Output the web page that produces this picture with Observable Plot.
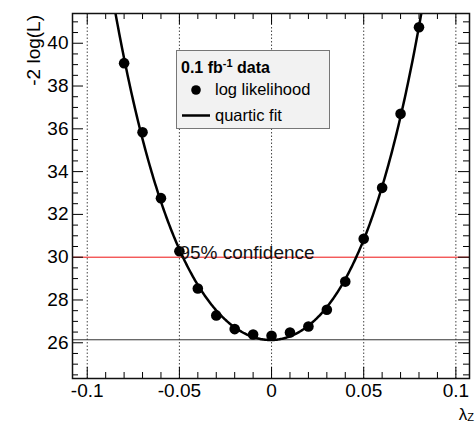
<!DOCTYPE html>
<html><head><meta charset="utf-8">
<script src="https://cdn.jsdelivr.net/npm/d3@7"></script>
<script src="https://cdn.jsdelivr.net/npm/@observablehq/plot@0.6"></script>
<style>body{margin:0;background:#fff;} svg{display:block;}</style>
</head><body><div id="chart"></div>
<script>
// ---- data ----
const lambdaZ = [-0.08,-0.07,-0.06,-0.05,-0.04,-0.03,-0.02,-0.01,0,0.01,0.02,0.03,0.04,0.05,0.06,0.07,0.08];
const logL    = [39.07,35.84,32.76,30.28,28.54,27.28,26.64,26.39,26.33,26.48,26.76,27.54,28.86,30.86,33.24,36.70,40.75];
const xMajor = [-0.1,-0.05,0,0.05,0.1];
const xMinor = [-0.09,-0.08,-0.07,-0.06,-0.04,-0.03,-0.02,-0.01,0.01,0.02,0.03,0.04,0.06,0.07,0.08,0.09];
const yMajor = [26,28,30,32,34,36,38,40];
const yMinor = [24.5,25,25.5,26.5,27,27.5,28.5,29,29.5,30.5,31,31.5,32.5,33,33.5,34.5,35,35.5,36.5,37,37.5,38.5,39,39.5,40.5,41];
const confidenceLevel = [30];
const minimumLevel = [26.14];
const confidenceLabel = ["95% confidence"];
const fitRange = [-0.0846, 0.085];

// ---- quartic least-squares fit of the points ----
function polyfit(xs, ys, deg) {
  const n = deg + 1;
  const A = Array.from({length: n}, () => new Array(n).fill(0));
  const b = new Array(n).fill(0);
  xs.forEach((xv, i) => {
    const u = xv * 100;
    for (let r = 0; r < n; r++) {
      b[r] += ys[i] * Math.pow(u, r);
      for (let c = 0; c < n; c++) A[r][c] += Math.pow(u, r + c);
    }
  });
  for (let p = 0; p < n; p++) {
    let m = p;
    for (let r = p + 1; r < n; r++) if (Math.abs(A[r][p]) > Math.abs(A[m][p])) m = r;
    [A[p], A[m]] = [A[m], A[p]]; [b[p], b[m]] = [b[m], b[p]];
    for (let r = p + 1; r < n; r++) {
      const f = A[r][p] / A[p][p];
      for (let c = p; c < n; c++) A[r][c] -= f * A[p][c];
      b[r] -= f * b[p];
    }
  }
  const coef = new Array(n).fill(0);
  for (let r = n - 1; r >= 0; r--) {
    let s = b[r];
    for (let c = r + 1; c < n; c++) s -= A[r][c] * coef[c];
    coef[r] = s / A[r][r];
  }
  return xv => coef.reduce((acc, k, i) => acc + k * Math.pow(xv * 100, i), 0);
}
const fit = polyfit(lambdaZ, logL, 4);
const points = lambdaZ.map((x, i) => ({x, y: logL[i]}));
const curve = d3.range(fitRange[0], fitRange[1], 0.0005).map(x => ({x, y: fit(x)}));

const W = 476, H = 423, mL = 72, mR = 7, mT = 13, mB = 45;
const pW = W - mL - mR, pH = H - mT - mB;
const font = "'Liberation Sans', Arial, Helvetica, sans-serif";

const plot = Plot.plot({
  width: W, height: H,
  marginLeft: mL, marginRight: mR, marginTop: mT, marginBottom: mB,
  style: {fontFamily: font, fontSize: "19px", color: "#000", background: "#fff"},
  x: {domain: [-0.108, 0.1074], axis: null},
  y: {domain: [24.33, 41.39], axis: null},
  marks: [
    Plot.ruleX(xMajor, {stroke: "#444", strokeWidth: 1, strokeDasharray: "1.5,2"}),
    Plot.ruleY(confidenceLevel, {stroke: "#ee1111", strokeWidth: 1}),
    Plot.ruleY(minimumLevel, {stroke: "#333", strokeWidth: 1}),
    // ticks (inside the frame, mirrored)
    Plot.ruleX(xMajor, {stroke: "#000", insetTop: pH - 11}),
    Plot.ruleX(xMinor, {stroke: "#000", insetTop: pH - 6}),
    Plot.ruleX(xMajor, {stroke: "#000", insetBottom: pH - 11}),
    Plot.ruleX(xMinor, {stroke: "#000", insetBottom: pH - 6}),
    Plot.ruleY(yMajor, {stroke: "#000", insetRight: pW - 11}),
    Plot.ruleY(yMinor, {stroke: "#000", insetRight: pW - 6}),
    Plot.ruleY(yMajor, {stroke: "#000", insetLeft: pW - 11}),
    Plot.ruleY(yMinor, {stroke: "#000", insetLeft: pW - 6}),
    Plot.axisX(xMajor, {anchor: "bottom", tickSize: 0, tickPadding: 5, tickFormat: d => String(d), label: null, fontSize: 19}),
    Plot.axisY(yMajor, {anchor: "left", tickSize: 0, tickPadding: 4, tickFormat: d => String(d), label: null, fontSize: 19}),
    Plot.line(curve, {x: "x", y: "y", stroke: "#000", strokeWidth: 2.5, clip: true}),
    Plot.dot(points, {x: "x", y: "y", r: 5.3, fill: "#000"}),
    Plot.text(confidenceLabel, {x: -0.05, y: confidenceLevel[0], text: d => d, textAnchor: "start", lineAnchor: "bottom", dy: 2, fontSize: 19, fill: "#111"}),
    Plot.frame({stroke: "#111", strokeWidth: 1.5})
  ]
});

const svg = d3.select(plot);
// y-axis title
svg.append("text")
  .attr("transform", `translate(40,15) rotate(-90)`)
  .attr("text-anchor", "end")
  .attr("font-family", font).attr("font-size", 19).attr("fill", "#000")
  .text("-2 log(L)");
// x-axis title with subscript
const xt = svg.append("text")
  .attr("x", 474).attr("y", 420).attr("text-anchor", "end")
  .attr("font-family", font).attr("font-size", 17).attr("fill", "#000");
xt.append("tspan").text("λ");
xt.append("tspan").attr("font-size", 11).attr("dy", 1).text("Z");

// legend
const lg = svg.append("g").attr("font-family", font).attr("fill", "#000").attr("text-anchor", "start");
lg.append("rect").attr("x", 176.5).attr("y", 50.5).attr("width", 153).attr("height", 78)
  .attr("fill", "#f2f2f2").attr("stroke", "#777").attr("stroke-width", 1);
const t1 = lg.append("text").attr("x", 181).attr("y", 73).attr("font-size", 16).attr("font-weight", "bold").attr("text-anchor", "start");
t1.append("tspan").text("0.1 fb");
t1.append("tspan").attr("font-size", 11).attr("dy", -6).text("-1");
t1.append("tspan").attr("dy", 6).text(" data");
lg.append("circle").attr("cx", 196).attr("cy", 90).attr("r", 4.8).attr("fill", "#000");
lg.append("text").attr("x", 215).attr("y", 95).attr("font-size", 16.5).attr("text-anchor", "start").text("log likelihood");
lg.append("line").attr("x1", 182).attr("x2", 210).attr("y1", 115.5).attr("y2", 115.5)
  .attr("stroke", "#000").attr("stroke-width", 2.5);
lg.append("text").attr("x", 215).attr("y", 121).attr("font-size", 16.5).attr("text-anchor", "start").text("quartic fit");

document.getElementById("chart").appendChild(plot);
</script>
</body></html>
